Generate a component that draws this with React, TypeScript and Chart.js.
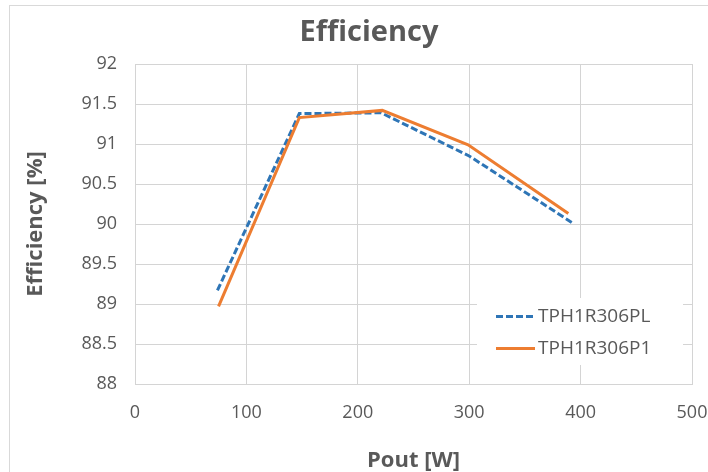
import React, { useEffect, useRef } from "react";
import { Chart, registerables } from "chart.js";

Chart.register(...registerables);

const TITLE = "Efficiency";
const X_TITLE = "Pout [W]";
const Y_TITLE = "Efficiency [%]";
const X_TICKS = [0, 100, 200, 300, 400, 500];
const Y_TICKS = [88, 88.5, 89, 89.5, 90, 90.5, 91, 91.5, 92];

const PL_LABEL = "TPH1R306PL";
const PL_POUT = [74, 147.5, 221, 300, 392];
const PL_EFF = [89.17, 91.38, 91.39, 90.85, 90.02];

const P1_LABEL = "TPH1R306P1";
const P1_POUT = [75, 147.5, 222, 299, 389];
const P1_EFF = [88.97, 91.33, 91.42, 90.99, 90.13];

const FONT = "'Open Sans', 'DejaVu Sans', sans-serif";
const TEXT = "#595959";
const GRID = "#d4d4d4";
const W = 738;
const H = 490;

const framePlugin = {
  id: "frame",
  beforeDraw(chart: any) {
    const ctx = chart.ctx;
    ctx.save();
    ctx.fillStyle = "#ffffff";
    ctx.fillRect(0, 0, chart.width, chart.height);
    ctx.strokeStyle = "#d9d9d9";
    ctx.lineWidth = 1;
    ctx.strokeRect(9.5, 5.5, chart.width - 19, chart.height - 11);
    ctx.restore();
  },
};

const insideLegend = {
  id: "insideLegend",
  afterDatasetsDraw(chart: any) {
    const { ctx, chartArea } = chart;
    const boxL = chartArea.right - 215;
    const boxR = chartArea.right - 9;
    const boxT = chartArea.bottom - 86;
    const boxB = chartArea.bottom - 19;
    ctx.save();
    ctx.fillStyle = "#ffffff";
    ctx.fillRect(boxL, boxT, boxR - boxL, boxB - boxT);
    const rows = [chartArea.bottom - 67.5, chartArea.bottom - 35.5];
    chart.data.datasets.forEach((ds: any, i: number) => {
      const y = rows[i];
      ctx.strokeStyle = ds.borderColor;
      ctx.lineWidth = ds.borderWidth;
      ctx.setLineDash(ds.borderDash || []);
      ctx.beginPath();
      ctx.moveTo(boxL + 19, y);
      ctx.lineTo(boxL + 58, y);
      ctx.stroke();
      ctx.setLineDash([]);
      ctx.fillStyle = TEXT;
      ctx.font = `19px ${FONT}`;
      ctx.textBaseline = "middle";
      ctx.textAlign = "left";
      ctx.fillText(ds.label, boxL + 61, y);
    });
    ctx.restore();
  },
};

export default function App() {
  const ref = useRef<HTMLCanvasElement>(null);

  useEffect(() => {
    if (!ref.current) return;
    const chart = new Chart(ref.current, {
      type: "line",
      data: {
        datasets: [
          {
            label: PL_LABEL,
            data: PL_POUT.map((x, i) => ({ x, y: PL_EFF[i] })),
            borderColor: "#2e75b6",
            borderWidth: 3,
            borderDash: [7, 3],
            pointRadius: 0,
            tension: 0,
            fill: false,
            order: 1,
          },
          {
            label: P1_LABEL,
            data: P1_POUT.map((x, i) => ({ x, y: P1_EFF[i] })),
            borderColor: "#ed7d31",
            borderWidth: 3,
            pointRadius: 0,
            tension: 0,
            fill: false,
            order: 0,
          },
        ],
      },
      options: {
        animation: false,
        responsive: false,
        devicePixelRatio: 1,
        layout: { padding: { left: 0, right: 0, top: 0, bottom: 15.8 } },
        plugins: {
          legend: { display: false },
          tooltip: { enabled: false },
          title: {
            display: true,
            text: TITLE,
            color: TEXT,
            font: { family: FONT, size: 29, weight: "bold" },
            padding: { top: 15, bottom: 14.2 },
          },
        },
        scales: {
          x: {
            type: "linear",
            min: 0,
            max: 500,
            afterBuildTicks: (s: any) => {
              s.ticks = X_TICKS.map((v) => ({ value: v }));
            },
            grid: { color: GRID, drawTicks: false },
            border: { color: GRID },
            ticks: {
              padding: 18,
              color: TEXT,
              maxRotation: 0,
              font: { family: FONT, size: 18 },
              callback: (v: any) => String(v),
            },
            title: {
              display: true,
              text: X_TITLE,
              color: TEXT,
              font: { family: FONT, size: 22, weight: "bold" },
              padding: { top: 6.2, bottom: 0 },
            },
          },
          y: {
            type: "linear",
            min: 88,
            max: 92,
            afterBuildTicks: (s: any) => {
              s.ticks = Y_TICKS.map((v) => ({ value: v }));
            },
            afterFit: (s: any) => {
              s.width = 135;
            },
            grid: { color: GRID, drawTicks: false },
            border: { color: GRID },
            ticks: {
              padding: 18,
              color: TEXT,
              font: { family: FONT, size: 18 },
              callback: (v: any) => String(v),
            },
            title: {
              display: true,
              text: Y_TITLE,
              color: TEXT,
              font: { family: FONT, size: 22, weight: "bold" },
              padding: { top: 22.5, bottom: 0 },
            },
          },
          yRight: {
            type: "linear",
            position: "right",
            display: true,
            grid: { display: false },
            border: { display: false },
            ticks: { display: false },
            afterFit: (s: any) => {
              s.width = 46;
            },
          },
        },
      },
      plugins: [framePlugin, insideLegend],
    } as any);
    return () => chart.destroy();
  }, []);

  return (
    <div
      style={{
        position: "fixed",
        left: 0,
        top: 0,
        width: "100vw",
        height: "100vh",
        overflow: "hidden",
        background: "#fff",
      }}
    >
      <canvas ref={ref} width={W} height={H} style={{ width: W, height: H, display: "block" }} />
    </div>
  );
}
